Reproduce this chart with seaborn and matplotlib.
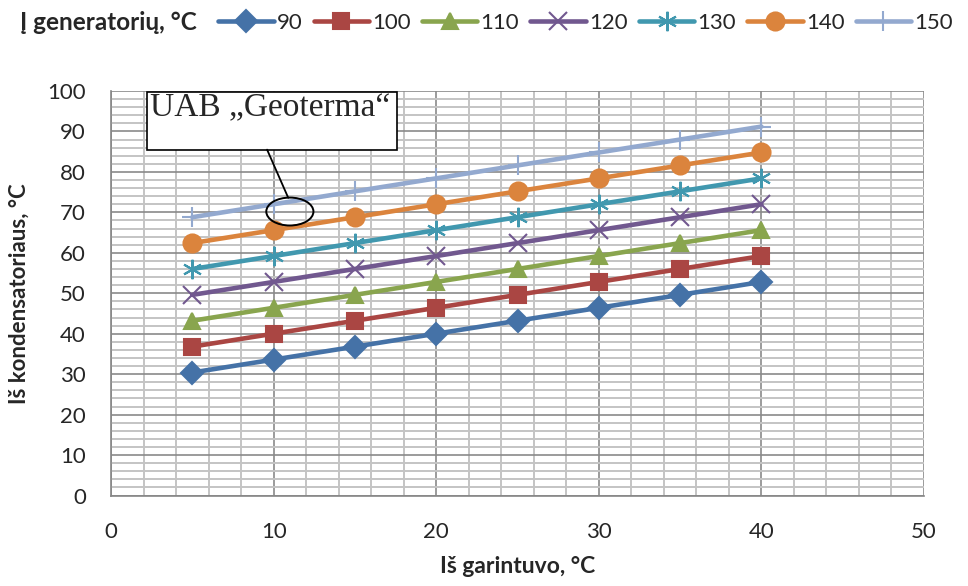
import matplotlib
matplotlib.use('Agg')
import matplotlib.pyplot as plt
from matplotlib.patches import Ellipse, Rectangle
from matplotlib.ticker import MultipleLocator
import seaborn as sns
import pandas as pd

# data
garintuvas = [5, 10, 15, 20, 25, 30, 35, 40]
generator_temps = [90, 100, 110, 120, 130, 140, 150]
t90 = [30.4, 33.6, 36.8, 40.0, 43.2, 46.4, 49.6, 52.8]
t100 = [36.8, 40.0, 43.2, 46.4, 49.6, 52.8, 56.0, 59.2]
t110 = [43.2, 46.4, 49.6, 52.8, 56.0, 59.2, 62.4, 65.6]
t120 = [49.6, 52.8, 56.0, 59.2, 62.4, 65.6, 68.8, 72.0]
t130 = [56.0, 59.2, 62.4, 65.6, 68.8, 72.0, 75.2, 78.4]
t140 = [62.4, 65.6, 68.8, 72.0, 75.2, 78.4, 81.6, 84.8]
t150 = [68.8, 72.0, 75.2, 78.4, 81.6, 84.8, 88.0, 91.2]
series = [t90, t100, t110, t120, t130, t140, t150]

colors = ['#4572A7', '#AA4643', '#89A54E', '#71588F', '#4198AF', '#DB843D', '#93A9CF']
markers = ['D', 's', '^', 'x', (6, 2, 0), 'o', '+']
msizes = [11, 12, 12, 13, 14, 13, 14]

df = pd.DataFrame([
    {'x': x, 'y': v, 'T': str(t)}
    for t, vals in zip(generator_temps, series)
    for x, v in zip(garintuvas, vals)
])

sns.set_style('white')
plt.rcParams['font.family'] = ['Lato', 'DejaVu Sans']

fig = plt.figure(figsize=(9.68, 5.86), dpi=100)
ax = fig.add_axes([111/968, 1-495.5/586, (924-111)/968, (495.5-91)/586])

for t, c, m, ms in zip(generator_temps, colors, markers, msizes):
    sub = df[df['T'] == str(t)]
    sns.lineplot(data=sub, x='x', y='y', ax=ax, color=c, marker=m, markersize=ms,
                 markeredgecolor=c, markeredgewidth=1.5, linewidth=3.3, label=str(t),
                 zorder=3)

ax.set_xlim(0, 50)
ax.set_ylim(0, 100)
ax.xaxis.set_major_locator(MultipleLocator(10))
ax.xaxis.set_minor_locator(MultipleLocator(2))
ax.yaxis.set_major_locator(MultipleLocator(10))
ax.yaxis.set_minor_locator(MultipleLocator(2))
ax.grid(which='minor', color='#c4c4c4', linewidth=1.4, zorder=0)
ax.grid(which='major', color='#8a8a8a', linewidth=1.2, zorder=1)
ax.set_axisbelow(True)
for s in ['top', 'right']:
    ax.spines[s].set_visible(False)
for s in ['left', 'bottom']:
    ax.spines[s].set_color('#868686')
    ax.spines[s].set_linewidth(1.2)
ax.tick_params(which='major', direction='out', length=6, width=1.2, color='#868686',
               labelsize=16)
ax.tick_params(which='minor', length=0)
ax.tick_params(axis='y', pad=12)
ax.tick_params(axis='x', pad=13)

ax.set_xlabel('Iš garintuvo, °C', fontsize=16.5, fontweight='bold', labelpad=10)
ax.set_ylabel('Iš kondensatoriaus, °C', fontsize=16, fontweight='bold', labelpad=13)

# annotation box with callout to the ellipse
ax.add_patch(Rectangle((0.0443, 0.854), 0.308, 0.144, transform=ax.transAxes,
                       facecolor='white', edgecolor='black', linewidth=1.2,
                       clip_on=False, zorder=5))
ax.text(0.048, 0.995, 'UAB „Geoterma“', transform=ax.transAxes, ha='left', va='top',
        fontsize=24, family=['Liberation Serif', 'DejaVu Serif'], zorder=6)
ax.annotate('', xy=(10.9, 73.6), xytext=(0.192, 0.855), textcoords='axes fraction',
            arrowprops=dict(arrowstyle='-', color='black', linewidth=1.3,
                            shrinkA=0, shrinkB=0), zorder=6)
ax.add_patch(Ellipse((11.0, 70.2), 2.9, 6.9, facecolor='none', edgecolor='black',
                     linewidth=1.4, zorder=6))

handles, labels = ax.get_legend_handles_labels()
ax.get_legend().remove()
fig.legend(handles, labels, loc='center left', bbox_to_anchor=(218/968, 1-23/586),
           ncol=7, frameon=False, fontsize=16, handlelength=2.5, handletextpad=0.14,
           columnspacing=0.5, borderaxespad=0, borderpad=0)
fig.text(20/968, 1-23/586, 'Į generatorių, °C', fontsize=17.5, fontweight='bold',
         ha='left', va='center')

fig.savefig('out.png', dpi=100)
